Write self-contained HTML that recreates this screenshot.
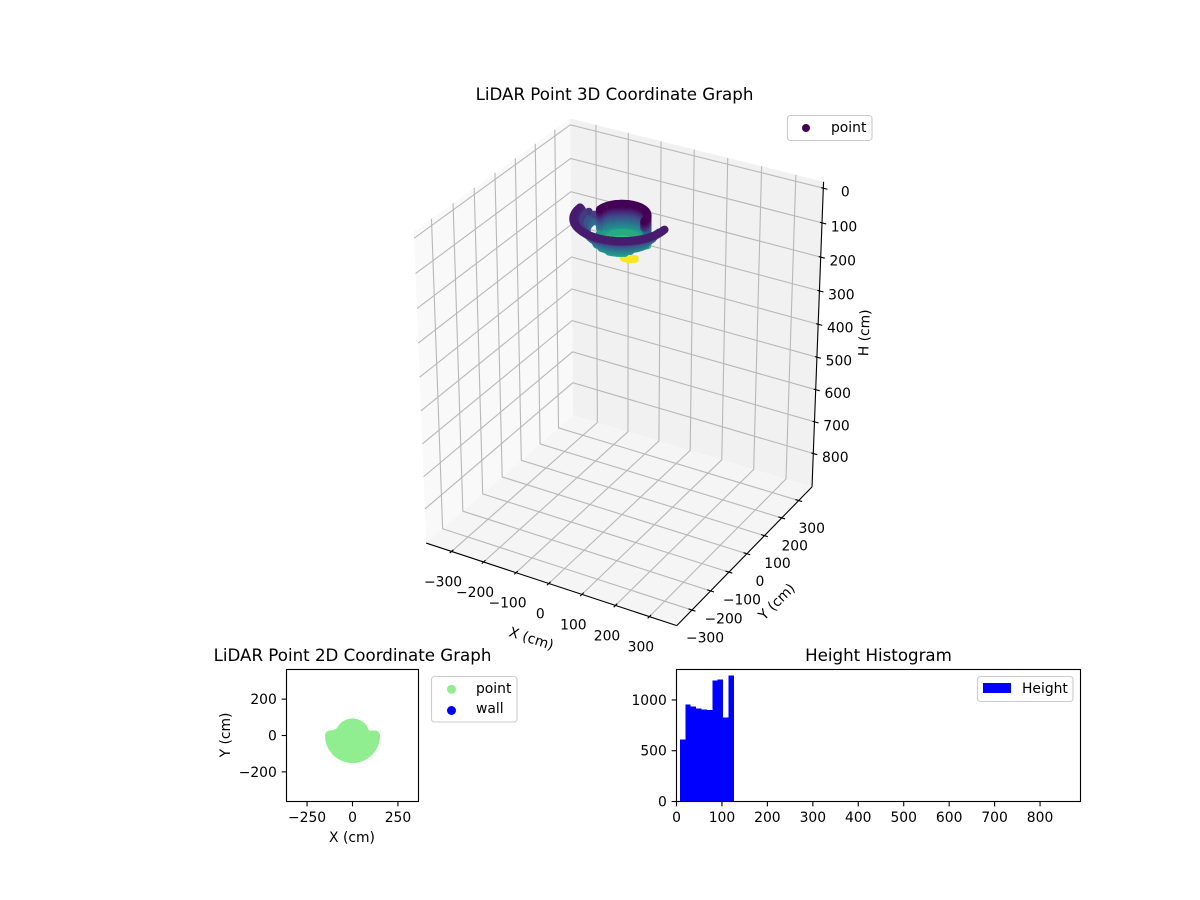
<!DOCTYPE html>
<html lang="en">
<head>
<meta charset="utf-8">
<title>LiDAR Point Graphs</title>
<style>
html,body{margin:0;padding:0;background:#fff;width:1200px;height:900px;overflow:hidden}
svg{display:block}
text{font-family:"DejaVu Sans","Liberation Sans",sans-serif;fill:#000;font-size:13.89px}
.title{font-size:16.67px;text-anchor:middle}
</style>
</head>
<body>
<svg id="figure" xmlns="http://www.w3.org/2000/svg" width="1200" height="900" viewBox="0 0 1200 900">
  <rect width="1200" height="900" fill="#fff"/>
  <g id="scene3d"></g>
  <text class="title" x="614.5" y="100">LiDAR Point 3D Coordinate Graph</text>
  <text text-anchor="middle" transform="translate(530,643) rotate(18)">X (cm)</text>
  <text text-anchor="middle" transform="translate(780,605) rotate(-45)">Y (cm)</text>
  <text text-anchor="middle" transform="translate(869,333) rotate(-88)">H (cm)</text>
  <g>
    <rect x="787.5" y="115.5" width="84.5" height="25" rx="3" fill="#fff" stroke="#ccc" stroke-width="1.11"/>
    <circle cx="806" cy="128" r="4" fill="#440154"/>
    <text x="831" y="132">point</text>
  </g>

  <g id="plot2d"></g>
  <text class="title" x="352.5" y="661">LiDAR Point 2D Coordinate Graph</text>
  <text text-anchor="middle" x="352" y="842">X (cm)</text>
  <text text-anchor="middle" transform="translate(230,735) rotate(-90)">Y (cm)</text>
  <g>
    <rect x="431.5" y="676.5" width="85.5" height="45.5" rx="3" fill="#fff" stroke="#ccc" stroke-width="1.11"/>
    <circle cx="451.5" cy="689.3" r="4.5" fill="#90ee90"/>
    <circle cx="451.5" cy="710.5" r="4.5" fill="#0000ff"/>
    <text x="476" y="693">point</text>
    <text x="476" y="713">wall</text>
  </g>

  <g id="hist"></g>
  <text class="title" x="878.5" y="661">Height Histogram</text>
  <g>
    <rect x="977.5" y="676.5" width="95.5" height="25" rx="3" fill="#fff" stroke="#ccc" stroke-width="1.11"/>
    <rect x="983" y="683" width="28" height="10" fill="#0000ff"/>
    <text x="1022" y="693">Height</text>
  </g>
</svg>

<script>
/* ---------- data (polar LiDAR samples, cm) ---------- */
const rimAngles = [0,5,10,15,20,25,30,35,40,45,50,55,60,65,70,75,80,85,90,95,100,105,110,115,120,125,130,135,140,145,150,155,160,165,170,175,180];
const rimRadii = [65,65,65,65,65,65,65];
const rimHeights = [7,10,13,16,19,22,26];

const upperWallAngles = [15,20,25,30,35,40,45,50,55,60,65,70,75,80,85,90,95,100,105,110,115,120,125,130,135,140,145,150,155,160,165,170,175,180];
const upperWallRadii = [65,65,65,65,65,65,65];
const upperWallHeights = [30,35,40,45,50,55,60];

const lowerWallAngles = [25,30,35,40,45,50,55,60,65,70,75,80,85,90,95,100,105,110,115,120,125,130,135,140,145,150,155,160];
const lowerWallRadii = [65,65,65,65,65];
const lowerWallHeights = [66,72,78,84,90];

const floorAngles = [30,45,60,75,90,105,120,135,150];
const floorRadii = [45,25];
const floorHeights = [80,88];

const innerAngles = [180,195,210,225,240,255,270,285,300,315,330,345,360];
const innerRadii = [60,35,12];
const innerHeights = [70,85,92];

const bowlAngles = [180,185,190,195,200,205,210,215,220,225,230,235,240,245,250,255,260,265,270,275,280,285,290,295,300,305,310,315,320,325,330,335,340,345,350,355,360];
const bowlRadii = [108,98,94,90];
const bowlHeights = [28,38,44,50];

const midBowlAngles = [250,255,260,265,270,275,280,285,290,295,300,305,310,315,320,325,330,335,340,345];
const midBowlRadii = [87,84];
const midBowlHeights = [56,62];

const lowBowlAngles = [260,265,270,275,280,285,290,295,300,305,310,315];
const lowBowlRadii = [81];
const lowBowlHeights = [68];

const lowestBowlAngles = [275,280,285,290,295,300,305];
const lowestBowlRadii = [78];
const lowestBowlHeights = [74];

const shoulderAngle = [170,175,178,165,170,177,175,172,178,179,176,173];
const shoulderRadius = [72,85,100,70,78,90,86,76,97,107,92,82];
const shoulderHeight = [36,30,24,42,50,45,49,53,45,36,38,44];

const tailAngles = [180,184,188,192,196,200,204,208,212,216,220,224,228,232,236,240,244,248,252,256,260,264,268,272,276,280,284,288,292,296,300,304,308,312,316,320,324,328,332,336,340,344,348,352,356,360];
const tailRadii = [124,121,118];
const tailHeights = [16,18,22];

const neckX = [-8,0,10,20,30,38,15,26];
const neckY = [-5,-3,0,2,5,8,-6,-2];
const neckH = [90,94,96,97,96,94,92,92];

const apexX = [25,13,35,9,19,29];
const apexY = [0,0,5,-6,-4,2];
const apexH = [126,126,125,124,126,125];

const xTicks3d = [-300,-200,-100,0,100,200,300];
const yTicks3d = [-300,-200,-100,0,100,200,300];
const zTicks3d = [0,100,200,300,400,500,600,700,800];

const xTicks2d = [-250,0,250];
const yTicks2d = [-200,0,200];

const histEdges = [7.4,19.3,31.2,43.1,55,66.9,78.8,90.7,102.6,114.5,126.4];
const histCounts = [610,954,934,915,905,900,1190,1200,826,1239];
const histXTicks = [0,100,200,300,400,500,600,700,800];
const histYTicks = [0,500,1000];

/* ---------- helpers ---------- */
const NS = 'http://www.w3.org/2000/svg';
function make(tag, parent, attrs){
  const el = document.createElementNS(NS, tag);
  for (const k in attrs) el.setAttribute(k, attrs[k]);
  parent.appendChild(el);
  return el;
}
function fmt(v){ return String(v).replace('-', '\u2212'); }
const viridisStops = [[68,1,84],[72,36,117],[65,68,135],[53,95,141],[42,120,142],[33,145,140],[34,168,132],[68,191,112],[122,209,81],[189,223,38],[253,231,37]];
function viridis(t){
  t = Math.max(0, Math.min(1, t)) * (viridisStops.length - 1);
  const i = Math.min(Math.floor(t), viridisStops.length - 2), f = t - i;
  const a = viridisStops[i], b = viridisStops[i + 1];
  return 'rgb(' + a.map((c, n) => Math.round(c + (b[n] - c) * f)).join(',') + ')';
}

/* ---------- assemble samples ---------- */
const samples = [];
function addPolar(a, r, h){
  samples.push({x: r * Math.cos(a * Math.PI / 180), y: r * Math.sin(a * Math.PI / 180), h: h});
}
function addRings(angles, radii, heights){
  radii.forEach((r, i) => {
    angles.forEach(a => addPolar(a, r, heights[i]));
  });
}
addRings(rimAngles, rimRadii, rimHeights);
addRings(upperWallAngles, upperWallRadii, upperWallHeights);
addRings(lowerWallAngles, lowerWallRadii, lowerWallHeights);
addRings(floorAngles, floorRadii, floorHeights);
addRings(innerAngles, innerRadii, innerHeights);
addRings(bowlAngles, bowlRadii, bowlHeights);
addRings(midBowlAngles, midBowlRadii, midBowlHeights);
addRings(lowBowlAngles, lowBowlRadii, lowBowlHeights);
addRings(lowestBowlAngles, lowestBowlRadii, lowestBowlHeights);
shoulderAngle.forEach((a, i) => addPolar(a, shoulderRadius[i], shoulderHeight[i]));
addRings(tailAngles, tailRadii, tailHeights);
neckX.forEach((x, i) => samples.push({x: x, y: neckY[i], h: neckH[i]}));
apexX.forEach((x, i) => samples.push({x: x, y: apexY[i], h: apexH[i]}));
const hMin = Math.min(...samples.map(s => s.h));
const hMax = Math.max(...samples.map(s => s.h));

/* ---------- 3D projection (elev 30, azim -60, perspective) ---------- */
const paneXY = 380, paneTop = -18.5, paneBottom = 906.5;
function project(x, y, z){
  const dx = x / paneXY * 0.489, dy = y / paneXY * 0.489;
  const dz = 0.598 * (1 - 2 * (z - paneTop) / (paneBottom - paneTop));
  const u = 0.866025 * dx + 0.5 * dy;
  const v = -0.25 * dx + 0.433013 * dy + 0.866025 * dz;
  const w = 0.433013 * dx - 0.75 * dy + 0.5 * dz;
  const den = 10 - w;
  return {px: 622 + 2974 * u / den, py: 365 - 2974 * v / den, depth: w};
}
function pathOf(pts){
  return pts.map((p, i) => {
    const q = project(p[0], p[1], p[2]);
    return (i ? 'L' : 'M') + q.px.toFixed(2) + ' ' + q.py.toFixed(2);
  }).join(' ');
}

const scene = document.getElementById('scene3d');
const L = paneXY, B = paneBottom, T = paneTop;

const paneLeft = make('path', scene, {d: pathOf([[-L,-L,B],[-L,L,B],[-L,L,T],[-L,-L,T]]) + 'Z', fill: '#f9f9f9'});


const paneBack = make('path', scene, {d: pathOf([[-L,L,B],[L,L,B],[L,L,T],[-L,L,T]]) + 'Z', fill: '#f1f1f1'});


const paneFloor = make('path', scene, {d: pathOf([[-L,-L,B],[L,-L,B],[L,L,B],[-L,L,B]]) + 'Z', fill: '#f5f5f5'});



const gridStyle = {fill: 'none', stroke: '#b8b8b8', 'stroke-width': 1.11};
xTicks3d.forEach(t => {
  const g = make('path', scene, Object.assign({d: pathOf([[t,-L,B],[t,L,B],[t,L,T]])}, gridStyle));
  
  
});
yTicks3d.forEach(t => {
  const g = make('path', scene, Object.assign({d: pathOf([[L,t,B],[-L,t,B],[-L,t,T]])}, gridStyle));
  
  
});
zTicks3d.forEach(t => {
  const g = make('path', scene, Object.assign({d: pathOf([[-L,-L,t],[-L,L,t],[L,L,t]])}, gridStyle));
  
  
});

const axisStyle = {fill: 'none', stroke: '#000', 'stroke-width': 1.11};
const axisX = make('path', scene, Object.assign({d: pathOf([[-L,-L,B],[L,-L,B]])}, axisStyle));


const axisY = make('path', scene, Object.assign({d: pathOf([[L,-L,B],[L,L,B]])}, axisStyle));


const axisH = make('path', scene, Object.assign({d: pathOf([[L,L,B],[L,L,T]])}, axisStyle));



xTicks3d.forEach(t => {
  const m = make('path', scene, Object.assign({d: pathOf([[t,-L-9,B],[t,-L+9,B]])}, axisStyle));
  
  
  const p = project(t, -L, B);
  const lab = make('text', scene, {x: (p.px - 8.5).toFixed(1), y: (p.py + 35).toFixed(1), 'text-anchor': 'middle'});
  lab.textContent = fmt(t);
  
  
});
yTicks3d.forEach(t => {
  const m = make('path', scene, Object.assign({d: pathOf([[L-10,t,B],[L+10,t,B]])}, axisStyle));
  
  
  const p = project(L, t, B);
  const lab = make('text', scene, {x: (p.px + 13).toFixed(1), y: (p.py + 32.5).toFixed(1), 'text-anchor': 'middle'});
  lab.textContent = fmt(t);
  
  
});
zTicks3d.forEach(t => {
  const m = make('path', scene, Object.assign({d: pathOf([[L-6,L,t],[L+12,L,t]])}, axisStyle));
  
  
  const p = project(L, L, t);
  const lab = make('text', scene, {x: (p.px + 22).toFixed(1), y: (p.py + 8.5).toFixed(1), 'text-anchor': 'middle'});
  lab.textContent = fmt(t);
  
  
});

const drawn = samples.map(s => Object.assign({}, s, project(s.x, s.y, s.h)));
drawn.sort((a, b) => a.depth - b.depth);
drawn.forEach(s => {
  const c = make('circle', scene, {cx: s.px.toFixed(2), cy: s.py.toFixed(2), r: 4, fill: viridis((s.h - hMin) / (hMax - hMin))});
  
  
});

/* ---------- 2D scatter ---------- */
const plot2d = document.getElementById('plot2d');
const ax2 = {l: 286.5, r: 418.5, t: 669.5, b: 801.5};
const lim2 = 363;
function sx2(v){ return (ax2.l + ax2.r) / 2 + v * (ax2.r - ax2.l) / (2 * lim2); }
function sy2(v){ return (ax2.t + ax2.b) / 2 - v * (ax2.b - ax2.t) / (2 * lim2); }
samples.forEach(s => {
  const c = make('circle', plot2d, {cx: sx2(s.x).toFixed(2), cy: sy2(s.y).toFixed(2), r: 5, fill: '#90ee90'});
  
  
});
const frame2 = make('rect', plot2d, {x: ax2.l, y: ax2.t, width: ax2.r - ax2.l, height: ax2.b - ax2.t, fill: 'none', stroke: '#000', 'stroke-width': 1.11});


xTicks2d.forEach(t => {
  const x = sx2(t);
  const m = make('line', plot2d, {x1: x, x2: x, y1: ax2.b, y2: ax2.b + 4.86, stroke: '#000', 'stroke-width': 1.11});
  
  
  const lab = make('text', plot2d, {x: x, y: 822, 'text-anchor': 'middle'});
  lab.textContent = fmt(t);
  
  
});
yTicks2d.forEach(t => {
  const y = sy2(t);
  const m = make('line', plot2d, {x1: ax2.l - 4.86, x2: ax2.l, y1: y, y2: y, stroke: '#000', 'stroke-width': 1.11});
  
  
  const lab = make('text', plot2d, {x: ax2.l - 9.7, y: y + 5, 'text-anchor': 'end'});
  lab.textContent = fmt(t);
  
  
});

/* ---------- histogram ---------- */
const hist = document.getElementById('hist');
const ax3 = {l: 676.5, r: 1080.5, t: 669.5, b: 801.5};
const histXMax = 889, histYMax = 1300;
function sxH(v){ return ax3.l + v * (ax3.r - ax3.l) / histXMax; }
function syH(v){ return ax3.b - v * (ax3.b - ax3.t) / histYMax; }
histCounts.forEach((n, i) => {
  const x0 = sxH(histEdges[i]), x1 = sxH(histEdges[i + 1]);
  const bar = make('rect', hist, {x: x0, y: syH(n), width: x1 - x0, height: ax3.b - syH(n), fill: '#0000ff', 'shape-rendering': 'crispEdges'});
  
  
});
const frame3 = make('rect', hist, {x: ax3.l, y: ax3.t, width: ax3.r - ax3.l, height: ax3.b - ax3.t, fill: 'none', stroke: '#000', 'stroke-width': 1.11});


histXTicks.forEach(t => {
  const x = sxH(t);
  const m = make('line', hist, {x1: x, x2: x, y1: ax3.b, y2: ax3.b + 4.86, stroke: '#000', 'stroke-width': 1.11});
  
  
  const lab = make('text', hist, {x: x, y: 822, 'text-anchor': 'middle'});
  lab.textContent = fmt(t);
  
  
});
histYTicks.forEach(t => {
  const y = syH(t);
  const m = make('line', hist, {x1: ax3.l - 4.86, x2: ax3.l, y1: y, y2: y, stroke: '#000', 'stroke-width': 1.11});
  
  
  const lab = make('text', hist, {x: ax3.l - 9.7, y: y + 5, 'text-anchor': 'end'});
  lab.textContent = fmt(t);
  
  
});
</script>
</body>
</html>
